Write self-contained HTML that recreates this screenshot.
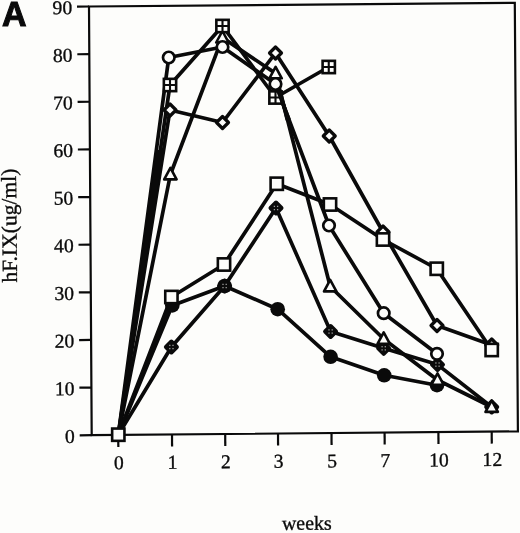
<!DOCTYPE html>
<html><head><meta charset="utf-8"><title>Chart A</title>
<style>
html,body{margin:0;padding:0;background:#fdfdfb;}
body{width:520px;height:533px;overflow:hidden;}
svg{display:block;will-change:transform;}
text{fill:#0a0a0a;stroke:#0a0a0a;stroke-width:0.35px;}
.n{font-family:"Liberation Serif",serif;font-size:19.6px;}
.t{font-family:"Liberation Serif",serif;font-size:19.9px;}
.yt{font-family:"Liberation Serif",serif;font-size:21.6px;}
.a{font-family:"Liberation Sans",sans-serif;font-weight:bold;font-size:35.4px;stroke:#0a0a0a;stroke-width:1.1px;stroke-linejoin:miter;}
</style></head><body>
<svg width="520" height="533" viewBox="0 0 520 533">
<rect width="520" height="533" fill="#fdfdfb"/>
<polygon points="89.0,6.5 514.8,2.9 517.9,431.4 91.7,435.2" fill="none" stroke="#0a0a0a" stroke-width="2.2" stroke-linejoin="miter"/>
<line x1="91.70" y1="435.20" x2="79.70" y2="435.31" stroke="#0a0a0a" stroke-width="2.2"/>
<text x="74.90" y="442.80" text-anchor="end" transform="rotate(-0.5 74.90 442.80)" class="n">0</text>
<line x1="91.40" y1="387.57" x2="79.40" y2="387.67" stroke="#0a0a0a" stroke-width="2.2"/>
<text x="74.60" y="395.17" text-anchor="end" transform="rotate(-0.5 74.60 395.17)" class="n">10</text>
<line x1="91.10" y1="339.93" x2="79.10" y2="340.04" stroke="#0a0a0a" stroke-width="2.2"/>
<text x="74.30" y="347.53" text-anchor="end" transform="rotate(-0.5 74.30 347.53)" class="n">20</text>
<line x1="90.80" y1="292.30" x2="78.80" y2="292.41" stroke="#0a0a0a" stroke-width="2.2"/>
<text x="74.00" y="299.90" text-anchor="end" transform="rotate(-0.5 74.00 299.90)" class="n">30</text>
<line x1="90.50" y1="244.67" x2="78.50" y2="244.77" stroke="#0a0a0a" stroke-width="2.2"/>
<text x="73.70" y="252.27" text-anchor="end" transform="rotate(-0.5 73.70 252.27)" class="n">40</text>
<line x1="90.20" y1="197.03" x2="78.20" y2="197.14" stroke="#0a0a0a" stroke-width="2.2"/>
<text x="73.40" y="204.63" text-anchor="end" transform="rotate(-0.5 73.40 204.63)" class="n">50</text>
<line x1="89.90" y1="149.40" x2="77.90" y2="149.51" stroke="#0a0a0a" stroke-width="2.2"/>
<text x="73.10" y="157.00" text-anchor="end" transform="rotate(-0.5 73.10 157.00)" class="n">60</text>
<line x1="89.60" y1="101.77" x2="77.60" y2="101.87" stroke="#0a0a0a" stroke-width="2.2"/>
<text x="72.80" y="109.37" text-anchor="end" transform="rotate(-0.5 72.80 109.37)" class="n">70</text>
<line x1="89.30" y1="54.13" x2="77.30" y2="54.24" stroke="#0a0a0a" stroke-width="2.2"/>
<text x="72.50" y="61.73" text-anchor="end" transform="rotate(-0.5 72.50 61.73)" class="n">80</text>
<line x1="89.00" y1="6.50" x2="77.00" y2="6.61" stroke="#0a0a0a" stroke-width="2.2"/>
<text x="72.20" y="14.10" text-anchor="end" transform="rotate(-0.5 72.20 14.10)" class="n">90</text>
<line x1="118.25" y1="434.96" x2="118.33" y2="446.96" stroke="#0a0a0a" stroke-width="2.2"/>
<text x="118.96" y="469.26" text-anchor="middle" transform="rotate(-0.5 118.96 469.26)" class="n">0</text>
<line x1="172.00" y1="434.48" x2="172.08" y2="446.48" stroke="#0a0a0a" stroke-width="2.2"/>
<text x="172.71" y="468.78" text-anchor="middle" transform="rotate(-0.5 172.71 468.78)" class="n">1</text>
<line x1="225.20" y1="434.01" x2="225.28" y2="446.01" stroke="#0a0a0a" stroke-width="2.2"/>
<text x="225.91" y="468.31" text-anchor="middle" transform="rotate(-0.5 225.91 468.31)" class="n">2</text>
<line x1="278.00" y1="433.54" x2="278.08" y2="445.54" stroke="#0a0a0a" stroke-width="2.2"/>
<text x="278.71" y="467.84" text-anchor="middle" transform="rotate(-0.5 278.71 467.84)" class="n">3</text>
<line x1="331.50" y1="433.06" x2="331.58" y2="445.06" stroke="#0a0a0a" stroke-width="2.2"/>
<text x="332.21" y="467.36" text-anchor="middle" transform="rotate(-0.5 332.21 467.36)" class="n">5</text>
<line x1="384.60" y1="432.59" x2="384.68" y2="444.59" stroke="#0a0a0a" stroke-width="2.2"/>
<text x="385.31" y="466.89" text-anchor="middle" transform="rotate(-0.5 385.31 466.89)" class="n">7</text>
<line x1="438.40" y1="432.11" x2="438.48" y2="444.11" stroke="#0a0a0a" stroke-width="2.2"/>
<text x="439.11" y="466.41" text-anchor="middle" transform="rotate(-0.5 439.11 466.41)" class="n">10</text>
<line x1="491.70" y1="431.63" x2="491.78" y2="443.63" stroke="#0a0a0a" stroke-width="2.2"/>
<text x="492.41" y="465.93" text-anchor="middle" transform="rotate(-0.5 492.41 465.93)" class="n">12</text>
<text x="282" y="530" class="t" transform="rotate(-0.5 282 530)">weeks</text>
<text x="0" y="0" class="yt" transform="translate(17 282.5) rotate(-90.5)">hF.IX(ug/ml)</text>
<text x="0" y="0" class="a" transform="translate(2.1 26.2) scale(0.96 0.985)">A</text>
<polyline points="118.30,434.70 172.30,305.40 224.60,286.00 277.70,309.20 330.60,356.80 384.20,375.30 437.00,385.20" fill="none" stroke="#0a0a0a" stroke-width="3.7" stroke-linejoin="round"/>
<polyline points="118.30,434.70 171.40,347.00 224.60,286.00 276.00,208.00 330.60,331.50 383.70,348.30 437.50,364.60 491.70,407.00" fill="none" stroke="#0a0a0a" stroke-width="3.7" stroke-linejoin="round"/>
<polyline points="118.30,434.70 170.40,174.50 222.40,37.60 275.60,73.40 330.20,286.50 383.70,339.00 437.50,380.00 491.70,407.00" fill="none" stroke="#0a0a0a" stroke-width="3.7" stroke-linejoin="round"/>
<polyline points="118.30,434.70 170.00,110.00 222.50,122.50 275.50,53.00 329.25,136.00 383.00,232.00 437.00,325.50 491.70,345.00" fill="none" stroke="#0a0a0a" stroke-width="3.7" stroke-linejoin="round"/>
<polyline points="118.30,434.70 168.75,57.50 222.50,47.00 275.50,84.00 329.00,225.50 383.70,313.20 437.00,353.80" fill="none" stroke="#0a0a0a" stroke-width="3.7" stroke-linejoin="round"/>
<polyline points="118.30,434.70 171.40,297.00 224.00,264.50 276.75,183.75 330.00,204.50 383.00,239.50 436.75,268.75 491.70,350.00" fill="none" stroke="#0a0a0a" stroke-width="3.7" stroke-linejoin="round"/>
<polyline points="118.30,434.70 170.00,85.00 222.50,26.00 275.50,97.50 328.75,67.00" fill="none" stroke="#0a0a0a" stroke-width="3.7" stroke-linejoin="round"/>
<polygon points="118.3,434.7 156.4,150 163.6,150" fill="#0a0a0a"/>
<polygon points="118.3,434.7 171.4,297 172.3,305.4" fill="#0a0a0a"/>
<circle cx="172.30" cy="305.40" r="7.3" fill="#0a0a0a"/>
<circle cx="224.60" cy="286.00" r="7.3" fill="#0a0a0a"/>
<circle cx="277.70" cy="309.20" r="7.3" fill="#0a0a0a"/>
<circle cx="330.60" cy="356.80" r="7.3" fill="#0a0a0a"/>
<circle cx="384.20" cy="375.30" r="7.3" fill="#0a0a0a"/>
<circle cx="437.00" cy="385.20" r="7.3" fill="#0a0a0a"/>
<polygon points="171.40,341.50 176.90,347.00 171.40,352.50 165.90,347.00" fill="#0a0a0a" stroke="#0a0a0a" stroke-width="4" stroke-linejoin="round"/><rect x="169.15" y="344.75" width="1.3" height="1.3" fill="#fdfdfb" opacity="0.6"/><rect x="169.15" y="347.95" width="1.3" height="1.3" fill="#fdfdfb" opacity="0.6"/><rect x="172.35" y="344.75" width="1.3" height="1.3" fill="#fdfdfb" opacity="0.6"/><rect x="172.35" y="347.95" width="1.3" height="1.3" fill="#fdfdfb" opacity="0.6"/>
<polygon points="224.60,280.50 230.10,286.00 224.60,291.50 219.10,286.00" fill="#0a0a0a" stroke="#0a0a0a" stroke-width="4" stroke-linejoin="round"/><rect x="222.35" y="283.75" width="1.3" height="1.3" fill="#fdfdfb" opacity="0.6"/><rect x="222.35" y="286.95" width="1.3" height="1.3" fill="#fdfdfb" opacity="0.6"/><rect x="225.55" y="283.75" width="1.3" height="1.3" fill="#fdfdfb" opacity="0.6"/><rect x="225.55" y="286.95" width="1.3" height="1.3" fill="#fdfdfb" opacity="0.6"/>
<polygon points="276.00,202.50 281.50,208.00 276.00,213.50 270.50,208.00" fill="#0a0a0a" stroke="#0a0a0a" stroke-width="4" stroke-linejoin="round"/><rect x="273.75" y="205.75" width="1.3" height="1.3" fill="#fdfdfb" opacity="0.6"/><rect x="273.75" y="208.95" width="1.3" height="1.3" fill="#fdfdfb" opacity="0.6"/><rect x="276.95" y="205.75" width="1.3" height="1.3" fill="#fdfdfb" opacity="0.6"/><rect x="276.95" y="208.95" width="1.3" height="1.3" fill="#fdfdfb" opacity="0.6"/>
<polygon points="330.60,326.00 336.10,331.50 330.60,337.00 325.10,331.50" fill="#0a0a0a" stroke="#0a0a0a" stroke-width="4" stroke-linejoin="round"/><rect x="328.35" y="329.25" width="1.3" height="1.3" fill="#fdfdfb" opacity="0.6"/><rect x="328.35" y="332.45" width="1.3" height="1.3" fill="#fdfdfb" opacity="0.6"/><rect x="331.55" y="329.25" width="1.3" height="1.3" fill="#fdfdfb" opacity="0.6"/><rect x="331.55" y="332.45" width="1.3" height="1.3" fill="#fdfdfb" opacity="0.6"/>
<polygon points="383.70,342.80 389.20,348.30 383.70,353.80 378.20,348.30" fill="#0a0a0a" stroke="#0a0a0a" stroke-width="4" stroke-linejoin="round"/><rect x="381.45" y="346.05" width="1.3" height="1.3" fill="#fdfdfb" opacity="0.6"/><rect x="381.45" y="349.25" width="1.3" height="1.3" fill="#fdfdfb" opacity="0.6"/><rect x="384.65" y="346.05" width="1.3" height="1.3" fill="#fdfdfb" opacity="0.6"/><rect x="384.65" y="349.25" width="1.3" height="1.3" fill="#fdfdfb" opacity="0.6"/>
<polygon points="437.50,359.10 443.00,364.60 437.50,370.10 432.00,364.60" fill="#0a0a0a" stroke="#0a0a0a" stroke-width="4" stroke-linejoin="round"/><rect x="435.25" y="362.35" width="1.3" height="1.3" fill="#fdfdfb" opacity="0.6"/><rect x="435.25" y="365.55" width="1.3" height="1.3" fill="#fdfdfb" opacity="0.6"/><rect x="438.45" y="362.35" width="1.3" height="1.3" fill="#fdfdfb" opacity="0.6"/><rect x="438.45" y="365.55" width="1.3" height="1.3" fill="#fdfdfb" opacity="0.6"/>
<polygon points="491.70,401.50 497.20,407.00 491.70,412.50 486.20,407.00" fill="#0a0a0a" stroke="#0a0a0a" stroke-width="4" stroke-linejoin="round"/><rect x="489.45" y="404.75" width="1.3" height="1.3" fill="#fdfdfb" opacity="0.6"/><rect x="489.45" y="407.95" width="1.3" height="1.3" fill="#fdfdfb" opacity="0.6"/><rect x="492.65" y="404.75" width="1.3" height="1.3" fill="#fdfdfb" opacity="0.6"/><rect x="492.65" y="407.95" width="1.3" height="1.3" fill="#fdfdfb" opacity="0.6"/>
<polygon points="170.40,167.90 176.60,179.40 164.20,179.40" fill="#fdfdfb" stroke="#0a0a0a" stroke-width="2.6" stroke-linejoin="round"/>
<polygon points="222.40,31.00 228.60,42.50 216.20,42.50" fill="#fdfdfb" stroke="#0a0a0a" stroke-width="2.6" stroke-linejoin="round"/>
<polygon points="275.60,66.80 281.80,78.30 269.40,78.30" fill="#fdfdfb" stroke="#0a0a0a" stroke-width="2.6" stroke-linejoin="round"/>
<polygon points="330.20,279.90 336.40,291.40 324.00,291.40" fill="#fdfdfb" stroke="#0a0a0a" stroke-width="2.6" stroke-linejoin="round"/>
<polygon points="383.70,332.40 389.90,343.90 377.50,343.90" fill="#fdfdfb" stroke="#0a0a0a" stroke-width="2.6" stroke-linejoin="round"/>
<polygon points="437.50,373.40 443.70,384.90 431.30,384.90" fill="#fdfdfb" stroke="#0a0a0a" stroke-width="2.6" stroke-linejoin="round"/>
<polygon points="491.70,400.40 497.90,411.90 485.50,411.90" fill="#fdfdfb" stroke="#0a0a0a" stroke-width="2.6" stroke-linejoin="round"/>
<polygon points="170.00,104.00 176.00,110.00 170.00,116.00 164.00,110.00" fill="#fdfdfb" stroke="#0a0a0a" stroke-width="3.2" stroke-linejoin="round"/>
<polygon points="222.50,116.50 228.50,122.50 222.50,128.50 216.50,122.50" fill="#fdfdfb" stroke="#0a0a0a" stroke-width="3.2" stroke-linejoin="round"/>
<polygon points="275.50,47.00 281.50,53.00 275.50,59.00 269.50,53.00" fill="#fdfdfb" stroke="#0a0a0a" stroke-width="3.2" stroke-linejoin="round"/>
<polygon points="329.25,130.00 335.25,136.00 329.25,142.00 323.25,136.00" fill="#fdfdfb" stroke="#0a0a0a" stroke-width="3.2" stroke-linejoin="round"/>
<polygon points="383.00,226.00 389.00,232.00 383.00,238.00 377.00,232.00" fill="#fdfdfb" stroke="#0a0a0a" stroke-width="3.2" stroke-linejoin="round"/>
<polygon points="437.00,319.50 443.00,325.50 437.00,331.50 431.00,325.50" fill="#fdfdfb" stroke="#0a0a0a" stroke-width="3.2" stroke-linejoin="round"/>
<polygon points="491.70,339.00 497.70,345.00 491.70,351.00 485.70,345.00" fill="#fdfdfb" stroke="#0a0a0a" stroke-width="3.2" stroke-linejoin="round"/>
<circle cx="168.75" cy="57.50" r="5.75" fill="#fdfdfb" stroke="#0a0a0a" stroke-width="2.7"/>
<circle cx="222.50" cy="47.00" r="5.75" fill="#fdfdfb" stroke="#0a0a0a" stroke-width="2.7"/>
<circle cx="275.50" cy="84.00" r="5.75" fill="#fdfdfb" stroke="#0a0a0a" stroke-width="2.7"/>
<circle cx="329.00" cy="225.50" r="5.75" fill="#fdfdfb" stroke="#0a0a0a" stroke-width="2.7"/>
<circle cx="383.70" cy="313.20" r="5.75" fill="#fdfdfb" stroke="#0a0a0a" stroke-width="2.7"/>
<circle cx="437.00" cy="353.80" r="5.75" fill="#fdfdfb" stroke="#0a0a0a" stroke-width="2.7"/>
<rect x="165.25" y="290.85" width="12.3" height="12.3" fill="#fdfdfb" stroke="#0a0a0a" stroke-width="2.6"/>
<rect x="217.85" y="258.35" width="12.3" height="12.3" fill="#fdfdfb" stroke="#0a0a0a" stroke-width="2.6"/>
<rect x="270.60" y="177.60" width="12.3" height="12.3" fill="#fdfdfb" stroke="#0a0a0a" stroke-width="2.6"/>
<rect x="323.85" y="198.35" width="12.3" height="12.3" fill="#fdfdfb" stroke="#0a0a0a" stroke-width="2.6"/>
<rect x="376.85" y="233.35" width="12.3" height="12.3" fill="#fdfdfb" stroke="#0a0a0a" stroke-width="2.6"/>
<rect x="430.60" y="262.60" width="12.3" height="12.3" fill="#fdfdfb" stroke="#0a0a0a" stroke-width="2.6"/>
<rect x="485.55" y="343.85" width="12.3" height="12.3" fill="#fdfdfb" stroke="#0a0a0a" stroke-width="2.6"/>
<rect x="163.85" y="78.85" width="12.3" height="12.3" fill="#fdfdfb" stroke="#0a0a0a" stroke-width="2.6"/><path d="M163.85 85.00H176.15M170.00 78.85V91.15" stroke="#0a0a0a" stroke-width="2.1" fill="none"/>
<rect x="216.35" y="19.85" width="12.3" height="12.3" fill="#fdfdfb" stroke="#0a0a0a" stroke-width="2.6"/><path d="M216.35 26.00H228.65M222.50 19.85V32.15" stroke="#0a0a0a" stroke-width="2.1" fill="none"/>
<rect x="269.35" y="91.35" width="12.3" height="12.3" fill="#fdfdfb" stroke="#0a0a0a" stroke-width="2.6"/><path d="M269.35 97.50H281.65M275.50 91.35V103.65" stroke="#0a0a0a" stroke-width="2.1" fill="none"/>
<rect x="322.60" y="60.85" width="12.3" height="12.3" fill="#fdfdfb" stroke="#0a0a0a" stroke-width="2.6"/><path d="M322.60 67.00H334.90M328.75 60.85V73.15" stroke="#0a0a0a" stroke-width="2.1" fill="none"/>
<rect x="112.15" y="428.55" width="12.3" height="12.3" fill="#fdfdfb" stroke="#0a0a0a" stroke-width="2.6"/>
<line x1="278.1" y1="91" x2="289.1" y2="120" stroke="#0a0a0a" stroke-width="3.7"/>
<line x1="279.9" y1="91" x2="287.4" y2="120" stroke="#0a0a0a" stroke-width="3.7"/>
</svg>
</body></html>
